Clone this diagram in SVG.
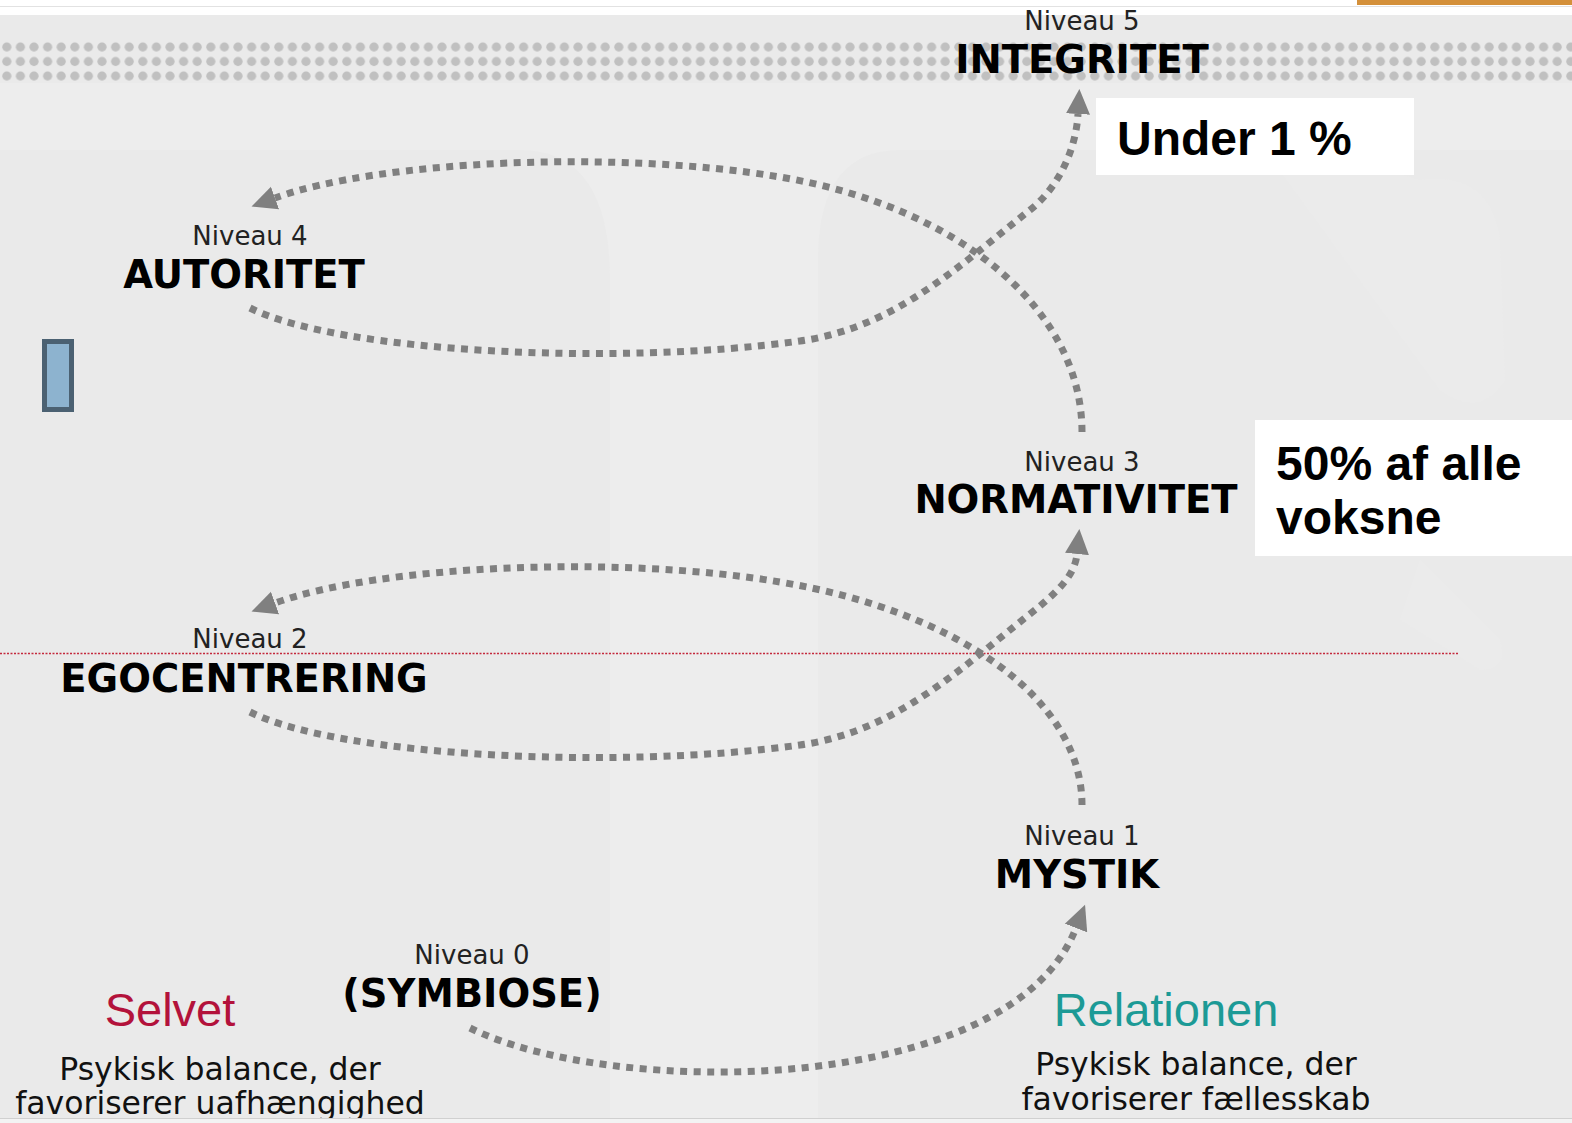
<svg xmlns="http://www.w3.org/2000/svg" width="1572" height="1123" viewBox="0 0 1572 1123">
  <defs>
    <style>
      .niv { font-family: "DejaVu Sans", Verdana, sans-serif; font-size: 26px; fill: #222; text-anchor: middle; }
      .ttl { font-family: "DejaVu Sans", Verdana, sans-serif; font-size: 38.5px; font-weight: bold; fill: #000; text-anchor: middle; }
      .box { fill: #fff; }
      .boxtxt { font-family: "Liberation Sans", Arial, sans-serif; font-size: 48px; font-weight: bold; fill: #000; }
      .side { font-family: "Liberation Sans", Arial, sans-serif; font-size: 47px; text-anchor: middle; }
      .desc { font-family: "DejaVu Sans", Verdana, sans-serif; font-size: 31.5px; fill: #111; text-anchor: middle; }
      .conn { fill: none; stroke: #808080; stroke-width: 7; stroke-dasharray: 7 6.5; marker-end: url(#arrow); }
    </style>
    <marker id="arrow" viewBox="0 -13 26 26" refX="0" refY="0" markerWidth="26" markerHeight="26" markerUnits="userSpaceOnUse" orient="auto">
      <path d="M0,-12 L25,0 L0,12 z" fill="#808080"/>
    </marker>
    <pattern id="dots" patternUnits="userSpaceOnUse" x="0" y="40" width="13.6" height="14.5">
      <circle cx="6.8" cy="7" r="4.6" fill="#c0c0c0"/>
    </pattern>
  </defs>

  <!-- background -->
  <rect x="0" y="0" width="1572" height="1123" fill="#eaeaea"/>
  <path d="M0,83 H1572 V150 H900 Q818,150 818,260 V1118 H610 V280 Q610,150 520,150 H0 Z" fill="#ededed"/>
  <path d="M1250,130 L1420,180 Q1490,170 1500,240 L1505,380 Q1480,420 1440,390 Z" fill="#ebebeb"/>
  <path d="M1420,560 L1500,640 Q1510,670 1480,670 L1400,620 Z" fill="#ebebeb"/>

  <!-- top strip -->
  <rect x="0" y="0" width="1572" height="15" fill="#ffffff"/>
  <line x1="0" y1="6.5" x2="1572" y2="6.5" stroke="#e2e2e2" stroke-width="1"/>
  <rect x="1357" y="0" width="215" height="5" fill="#d4903a"/>

  <!-- dotted band -->
  <rect x="0" y="40" width="1572" height="43.5" fill="url(#dots)"/>

  <!-- red dotted level line -->
  <line x1="0" y1="653.5" x2="1458" y2="653.5" stroke="#c4283c" stroke-width="1.5" stroke-dasharray="2 1.5"/>

  <!-- small blue rectangle -->
  <rect x="44.5" y="341.5" width="27" height="68" fill="#8db3cf" stroke="#4b6172" stroke-width="5"/>

  <!-- connectors -->
  <g id="connectors">
    <path class="conn" d="M470,1028 C610,1098 1010,1098 1076,928"/>
    <path class="conn" d="M1082,805 C1082,700 960,612 780,582 C620,555 380,565 275,603"/>
    <path class="conn" d="M250,712 C340,757 620,770 800,745 C895,732 960,669 1030,614 C1058,592 1075,575 1077,554"/>
    <path class="conn" d="M1082,432 C1082,310 960,207 780,177 C620,150 380,160 275,198"/>
    <path class="conn" d="M250,308 C340,353 620,366 800,341 C895,328 960,265 1030,210 C1058,188 1076,150 1078,114"/>
  </g>

  <!-- nodes -->
  <g id="niveau5">
    <text class="niv" x="1082" y="30">Niveau 5</text>
    <text class="ttl" x="1082" y="73">INTEGRITET</text>
  </g>
  <g id="niveau4">
    <text class="niv" x="250" y="245">Niveau 4</text>
    <text class="ttl" x="244" y="288">AUTORITET</text>
  </g>
  <g id="niveau3">
    <text class="niv" x="1082" y="471">Niveau 3</text>
    <text class="ttl" x="1076" y="513">NORMATIVITET</text>
  </g>
  <g id="niveau2">
    <text class="niv" x="250" y="648">Niveau 2</text>
    <text class="ttl" x="244" y="692">EGOCENTRERING</text>
  </g>
  <g id="niveau1">
    <text class="niv" x="1082" y="845">Niveau 1</text>
    <text class="ttl" x="1077" y="888">MYSTIK</text>
  </g>
  <g id="niveau0">
    <text class="niv" x="472" y="964">Niveau 0</text>
    <text class="ttl" x="472" y="1007">(SYMBIOSE)</text>
  </g>

  <g id="note-under1">
    <rect class="box" x="1096" y="98" width="318" height="77"/>
    <text class="boxtxt" x="1117" y="155">Under 1 %</text>
  </g>
  <g id="note-50">
    <rect class="box" x="1255" y="420" width="317" height="136"/>
    <text class="boxtxt" x="1276" y="480">50% af alle</text>
    <text class="boxtxt" x="1276" y="534">voksne</text>
  </g>

  <g id="selvet">
    <text class="side" x="170" y="1026" fill="#b3123b">Selvet</text>
    <text class="desc" x="220" y="1080">Psykisk balance, der</text>
    <text class="desc" x="220" y="1114">favoriserer uafhængighed</text>
  </g>
  <g id="relationen">
    <text class="side" x="1166" y="1026" fill="#1c9a96">Relationen</text>
    <text class="desc" x="1196" y="1075">Psykisk balance, der</text>
    <text class="desc" x="1196" y="1110">favoriserer fællesskab</text>
  </g>

  <!-- bottom strip -->
  <rect x="0" y="1118" width="1572" height="5" fill="#f3f3f3"/>
  <line x1="0" y1="1118.5" x2="1572" y2="1118.5" stroke="#d0d0d0" stroke-width="1"/>
</svg>
